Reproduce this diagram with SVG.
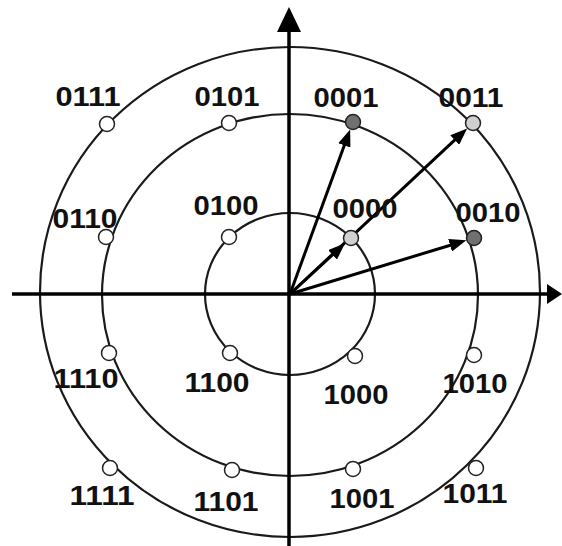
<svg xmlns="http://www.w3.org/2000/svg" width="562" height="546" viewBox="0 0 562 546">
<style>
.ring{fill:none;stroke:#1a1a1a;stroke-width:2.2}
.axis{stroke:#000;stroke-width:3.5;fill:none}
.vec{stroke:#000;stroke-width:3;fill:none}
.pt{stroke:#222;stroke-width:1.5;fill:#fff}
.dk{fill:#707070}
.lt{fill:#d0d0d0}
.lbl{font-family:"Liberation Sans",Arial,sans-serif;font-weight:bold;font-size:28px;fill:#111;text-anchor:middle}
</style>
<defs>
<marker id="ah" markerUnits="userSpaceOnUse" markerWidth="17" markerHeight="13" refX="2" refY="6.5" orient="auto">
<path d="M0,0 L17,6.5 L0,13 z" fill="#000"/>
</marker>
</defs>
<rect width="562" height="546" fill="#fff"/>
<g id="rings">
<ellipse class="ring" cx="290" cy="292" rx="250" ry="245"/>
<ellipse class="ring" cx="290" cy="295" rx="188" ry="181"/>
<ellipse class="ring" cx="290" cy="294" rx="85" ry="81"/>
</g>
<g id="axes">
<line class="axis" x1="12" y1="294" x2="549" y2="294"/>
<polygon points="547,284 562,294 547,304" fill="#000"/>
<line class="axis" x1="289" y1="546" x2="289" y2="30"/>
<polygon points="277,32 289,7 301,32" fill="#000"/>
</g>
<g id="connectors">
<line class="vec" x1="290" y1="294" x2="345" y2="143.5" marker-end="url(#ah)"/>
<line class="vec" x1="290" y1="294" x2="456.2" y2="138.7" marker-end="url(#ah)"/>
<line class="vec" x1="290" y1="294" x2="334" y2="253.5" marker-end="url(#ah)"/>
<line class="vec" x1="290" y1="294" x2="452" y2="244.7" marker-end="url(#ah)"/>
</g>
<g id="n0111"><circle class="pt" cx="107" cy="124" r="7.5"/><text class="lbl" x="88" y="106" textLength="65" lengthAdjust="spacingAndGlyphs">0111</text></g>
<g id="n0101"><circle class="pt" cx="229" cy="123" r="7.5"/><text class="lbl" x="227" y="106" textLength="65" lengthAdjust="spacingAndGlyphs">0101</text></g>
<g id="n0001"><circle class="pt dk" cx="353" cy="122" r="7.5"/><text class="lbl" x="346" y="107" textLength="65" lengthAdjust="spacingAndGlyphs">0001</text></g>
<g id="n0011"><circle class="pt lt" cx="473" cy="123" r="7.5"/><text class="lbl" x="471" y="107" textLength="65" lengthAdjust="spacingAndGlyphs">0011</text></g>
<g id="n0110"><circle class="pt" cx="106" cy="237" r="7.5"/><text class="lbl" x="85" y="228" textLength="65" lengthAdjust="spacingAndGlyphs">0110</text></g>
<g id="n0100"><circle class="pt" cx="229" cy="237" r="7.5"/><text class="lbl" x="226" y="215" textLength="65" lengthAdjust="spacingAndGlyphs">0100</text></g>
<g id="n0000"><circle class="pt lt" cx="351" cy="238" r="7.5"/><text class="lbl" x="365" y="218" textLength="65" lengthAdjust="spacingAndGlyphs">0000</text></g>
<g id="n0010"><circle class="pt dk" cx="474" cy="238" r="7.5"/><text class="lbl" x="488" y="222" textLength="65" lengthAdjust="spacingAndGlyphs">0010</text></g>
<g id="n1110"><circle class="pt" cx="109" cy="353" r="7.5"/><text class="lbl" x="86" y="388" textLength="65" lengthAdjust="spacingAndGlyphs">1110</text></g>
<g id="n1100"><circle class="pt" cx="230" cy="353" r="7.5"/><text class="lbl" x="217" y="392" textLength="65" lengthAdjust="spacingAndGlyphs">1100</text></g>
<g id="n1000"><circle class="pt" cx="355" cy="356" r="7.5"/><text class="lbl" x="356" y="404" textLength="65" lengthAdjust="spacingAndGlyphs">1000</text></g>
<g id="n1010"><circle class="pt" cx="474" cy="355" r="7.5"/><text class="lbl" x="475" y="393" textLength="65" lengthAdjust="spacingAndGlyphs">1010</text></g>
<g id="n1111"><circle class="pt" cx="110" cy="468" r="7.5"/><text class="lbl" x="102" y="505" textLength="65" lengthAdjust="spacingAndGlyphs">1111</text></g>
<g id="n1101"><circle class="pt" cx="232" cy="470" r="7.5"/><text class="lbl" x="226" y="511" textLength="65" lengthAdjust="spacingAndGlyphs">1101</text></g>
<g id="n1001"><circle class="pt" cx="353" cy="469" r="7.5"/><text class="lbl" x="362" y="508" textLength="65" lengthAdjust="spacingAndGlyphs">1001</text></g>
<g id="n1011"><circle class="pt" cx="476" cy="468" r="7.5"/><text class="lbl" x="475" y="503" textLength="65" lengthAdjust="spacingAndGlyphs">1011</text></g>
</svg>
